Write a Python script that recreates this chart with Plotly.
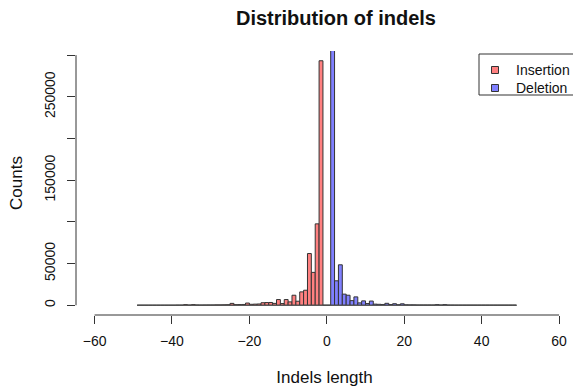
import plotly.graph_objects as go

# ---- data ----
# histogram bins are 1 unit wide; left edges from -49 to 48
bin_left_edges = list(range(-49, 49))

# Insertion counts for bins with left edge -49 .. -1
insertion_counts = [0, 0, 0, 0, 0, 0, 0, 0, 0, 0,
                    100, 100, 700, 200, 700, 300, 200, 250, 300, 300,
                    400, 400, 500, 600, 2200, 700, 800, 900, 2600, 1100,
                    1300, 1500, 3000, 3200, 3300, 2200, 6800, 2000, 6800, 4000,
                    12000, 4800, 16000, 18000, 62000, 39400, 97600, 293300, 0]
# Deletion counts for bins with left edge 0 .. 48
deletion_counts = [0, 380000, 29300, 48500, 13300, 12000, 5500, 10000, 2800, 5200,
                   2000, 5000, 1300, 1100, 900, 2300, 800, 1800, 600, 1700,
                   500, 400, 400, 300, 300, 300, 300, 250, 700, 250,
                   700, 200, 150, 100, 100, 100, 100, 100, 100, 100,
                   100, 100, 100, 100, 100, 100, 100, 100, 100]

series_names = ["Insertion", "Deletion"]
series_colors = ["rgb(255,128,128)", "rgb(128,128,255)"]

x_ticks = [-60, -40, -20, 0, 20, 40, 60]
y_ticks = [0, 50000, 100000, 150000, 200000, 250000, 300000]
y_tick_text = ["0", "50000", "", "150000", "", "250000", ""]

# ---- geometry (page body margin removed in the written page) ----
W, H = 573, 387
ML, MR, MT, MB = 76, 0, 51, 387 - 315
PW, PH = W - ML - MR, H - MT - MB


def px_x(p):  # screen pixel -> paper x
    return (p - ML) / PW


def px_y(p):  # screen pixel -> paper y
    return (H - MB - p) / PH


neg_edges = [e for e in bin_left_edges if e < 0]
pos_edges = [e for e in bin_left_edges if e >= 0]
ins_x = [e + 0.5 for e in neg_edges]
del_x = [e + 0.5 for e in pos_edges]

FONT = "Liberation Sans, Arial, sans-serif"
LINE = "#333333"
TXT = "#111111"

fig = go.Figure()
# zero-height bins show as a flat line along the baseline
fig.add_trace(go.Scatter(
    x=[bin_left_edges[0], bin_left_edges[-1] + 1], y=[0, 0],
    mode="lines", line=dict(color="#555555", width=1),
    showlegend=False, hoverinfo="skip"))
fig.add_trace(go.Bar(
    x=ins_x, y=insertion_counts, width=1, name=series_names[0], showlegend=False,
    marker=dict(color=series_colors[0], line=dict(color=LINE, width=1))))
fig.add_trace(go.Bar(
    x=del_x, y=deletion_counts, width=1, name=series_names[1], showlegend=False,
    marker=dict(color=series_colors[1], line=dict(color=LINE, width=1))))

# R-style axis lines spanning only the first..last tick
fig.add_shape(type="line", xref="x", yref="paper", x0=x_ticks[0], x1=x_ticks[-1],
              y0=0, y1=0, line=dict(color=LINE, width=1))
fig.add_shape(type="line", xref="paper", yref="y", x0=0, x1=0,
              y0=y_ticks[0], y1=y_ticks[-1], line=dict(color=LINE, width=1))

# legend box (R legend at top-right, partly beyond the right edge)
fig.add_shape(type="rect", xref="paper", yref="paper",
              x0=px_x(479), x1=px_x(590), y0=px_y(95), y1=px_y(54),
              line=dict(color=LINE, width=1), fillcolor="white", layer="above")
row_y = [70, 88]
for name, col, ry in zip(series_names, series_colors, row_y):
    fig.add_shape(type="rect", xref="paper", yref="paper",
                  x0=px_x(491.5), x1=px_x(498.5), y0=px_y(ry + 3.5), y1=px_y(ry - 3.5),
                  line=dict(color=LINE, width=1), fillcolor=col, layer="above")
    fig.add_annotation(text=name, xref="paper", yref="paper", x=px_x(513.5), y=px_y(ry),
                       xanchor="left", yanchor="middle", showarrow=False,
                       font=dict(size=14, family=FONT, color=TXT))

fig.update_layout(
    width=W, height=H,
    margin=dict(l=ML, r=MR, t=MT, b=MB),
    paper_bgcolor="white", plot_bgcolor="white",
    barmode="overlay",
    showlegend=False,
    font=dict(family=FONT, size=14, color=TXT),
    title=dict(text="<b>Distribution of indels</b>", font=dict(size=20, family=FONT, color=TXT),
               x=336 / W, xref="container", xanchor="center",
               y=1 - 11 / H, yref="container", yanchor="top"),
    xaxis=dict(range=[-64.8, 63.6], tickvals=x_ticks, ticks="outside", ticklen=8,
               tickcolor=LINE, showline=False, showgrid=False, zeroline=False,
               ticklabelstandoff=5, automargin=False,
               title=dict(text="Indels length", standoff=23)),
    yaxis=dict(range=[-11730, 305000], tickvals=y_ticks, ticktext=y_tick_text,
               ticks="outside", ticklen=8, tickcolor=LINE, tickangle=-90,
               showline=False, showgrid=False, zeroline=False,
               ticklabelstandoff=6, automargin=False,
               title=dict(text="Counts", standoff=15)),
)

fig.write_html("out.html",
               config={"displayModeBar": False},
               post_script="document.body.style.margin='0';document.body.style.overflow='hidden';")
